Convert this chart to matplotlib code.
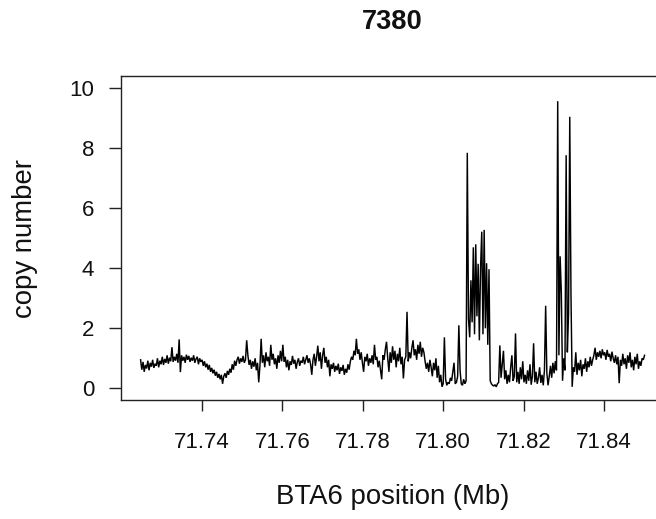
import numpy as np
import matplotlib
matplotlib.use("Agg")
import matplotlib.pyplot as plt

plt.rcParams['font.family'] = ['Liberation Sans', 'DejaVu Sans']

title = "7380"
x_label = "BTA6 position (Mb)"
y_label = "copy number"
x_ticks = [71.74, 71.76, 71.78, 71.80, 71.82, 71.84]
x_tick_labels = ["71.74", "71.76", "71.78", "71.80", "71.82", "71.84"]
y_ticks = [0, 2, 4, 6, 8, 10]

# probe positions: regular grid (Mb)
probe_start = 71.7247
probe_step = 0.0003

copy_number = [
    0.95, 0.62, 0.88, 0.55, 0.78, 0.66, 0.92, 0.60, 0.85, 0.72, 0.95, 0.68, 0.82, 0.75, 1.00, 0.70, 0.92, 0.80, 1.05, 0.78,
    0.98, 0.85, 1.10, 0.82, 1.02, 0.90, 1.37, 0.88, 1.05, 0.92, 1.15, 0.85, 1.63, 0.54, 1.10, 0.92, 1.05, 0.85, 1.12, 0.95,
    1.08, 0.88, 1.02, 0.92, 1.10, 0.85, 0.98, 1.05, 0.80, 1.00, 0.88, 0.95, 0.75, 0.90, 0.70, 0.82, 0.62, 0.78, 0.55, 0.68,
    0.50, 0.62, 0.42, 0.55, 0.35, 0.48, 0.30, 0.45, 0.15, 0.40, 0.50, 0.35, 0.58, 0.45, 0.65, 0.52, 0.80, 0.62, 0.92, 0.75,
    0.95, 1.05, 0.82, 1.00, 0.88, 1.08, 0.85, 0.95, 1.60, 1.10, 0.78, 0.95, 0.65, 0.90, 0.72, 1.00, 0.60, 0.85, 0.20, 0.75,
    1.65, 0.85, 1.10, 0.70, 1.20, 0.90, 1.05, 0.75, 1.45, 0.95, 1.15, 0.80, 1.00, 0.65, 1.10, 0.85, 1.25, 0.90, 1.45, 0.88,
    1.05, 0.70, 0.95, 0.60, 0.90, 0.78, 1.08, 0.82, 0.95, 0.65, 0.88, 1.00, 0.75, 0.92, 0.85, 1.05, 0.80, 0.95, 1.10, 0.85,
    1.00, 0.80, 0.45, 0.95, 1.15, 0.75, 1.05, 1.42, 0.90, 1.20, 0.65, 1.10, 1.35, 0.85, 1.05, 0.70, 0.95, 0.40, 0.80, 0.65,
    0.85, 0.55, 0.75, 0.60, 0.82, 0.48, 0.70, 0.58, 0.78, 0.45, 0.65, 0.52, 0.80, 0.62, 0.90, 1.05, 0.95, 1.25, 1.10, 1.65,
    1.15, 1.30, 0.95, 1.20, 0.85, 0.55, 1.05, 0.90, 1.15, 0.75, 1.00, 0.85, 1.10, 0.80, 1.45, 0.95, 1.05, 0.70, 0.92, 0.60,
    0.30, 1.10, 0.95, 1.30, 1.55, 1.00, 0.55, 1.20, 0.85, 1.40, 0.95, 1.25, 0.70, 1.15, 0.90, 1.35, 0.80, 1.05, 0.33, 0.95,
    1.05, 2.55, 0.90, 1.20, 1.00, 1.35, 1.60, 1.10, 1.30, 0.95, 1.45, 1.15, 1.55, 1.05, 1.35, 1.20, 0.90, 0.65, 0.85, 0.55,
    0.95, 0.70, 0.40, 0.85, 0.60, 1.00, 0.35, 0.75, 0.20, 0.45, 0.05, 0.15, 1.70, 0.30, 0.10, 0.20, 0.15, 0.35, 0.25, 0.55,
    0.85, 0.15, 0.20, 0.40, 2.10, 0.60, 0.15, 0.10, 0.30, 0.15, 0.25, 7.85, 2.30, 1.70, 3.60, 2.20, 4.70, 1.80, 4.80, 2.40,
    4.15, 1.60, 4.00, 5.22, 1.80, 5.28, 2.00, 4.17, 1.45, 3.97, 0.25,
    0.15, 0.10, 0.08, 0.12, 0.05, 0.15, 0.20, 1.43, 0.35,
    0.80, 1.25, 0.30, 0.60, 0.15, 0.45, 0.20, 0.70, 1.10, 0.25, 0.40, 1.83, 0.20, 0.55, 0.15, 0.70, 0.30, 0.90, 0.20, 0.45,
    0.15, 0.60, 0.25, 0.80, 0.12, 0.40, 1.50, 0.20, 0.55, 0.15, 0.35, 0.70, 0.18, 0.45, 0.10, 0.60, 2.75, 0.50, 0.10, 0.40,
    0.75, 0.35, 0.85, 0.50, 0.90, 0.60, 9.57, 1.10, 4.40, 3.20, 0.25, 1.00, 0.60, 7.77, 1.20, 2.50, 9.05, 3.14, 0.05, 0.70,
    0.55, 1.20, 0.45, 0.85, 0.60, 0.95, 0.40, 0.80, 0.65, 1.00, 0.55, 0.90, 0.70, 1.05, 0.75, 0.95, 1.10, 1.35, 0.95, 1.20,
    1.05, 1.25, 1.00, 1.30, 1.10, 1.20, 0.95, 1.28, 1.05, 1.15, 0.90, 1.22, 1.00, 0.85, 1.10, 0.80, 1.05, 0.17, 0.95, 0.75,
    1.15, 0.80, 1.00, 0.65, 1.10, 0.85, 1.20, 0.70, 0.95, 0.60, 1.05, 0.80, 1.15, 0.65, 0.90, 0.75, 1.00, 0.95, 1.10,
]

W, H = 656, 519
fig = plt.figure(figsize=(W / 100, H / 100), dpi=100)

ax_l, ax_r, ax_t, ax_b = 120.5, 664.6, 76.3, 400.3
ax = fig.add_axes([ax_l / W, 1 - ax_b / H, (ax_r - ax_l) / W, (ax_b - ax_t) / H])

positions = probe_start + probe_step * np.arange(len(copy_number))
ax.plot(positions, copy_number, color="black", lw=1.05, solid_joinstyle="miter")

ax.set_xlim(71.7197, 71.8551)
ax.set_ylim(-0.4, 10.4)
ax.set_xticks(x_ticks)
ax.set_xticklabels(x_tick_labels)
ax.set_yticks(y_ticks)
ax.set_yticklabels([str(v) for v in y_ticks])

for s in ax.spines.values():
    s.set_linewidth(1.0)
    s.set_color("#222222")

ax.tick_params(axis="x", direction="out", length=8, width=1.0, color="#222222",
               labelsize=16, pad=15, labelcolor="#111111")
ax.tick_params(axis="y", direction="out", length=9, width=1.0, color="#222222",
               labelsize=16, pad=10, labelcolor="#111111")

cx = (ax_l + ax_r) / 2 / W
fig.text(cx, 1 - 22 / H, title, ha="center", va="center", fontsize=19.6,
         fontweight="bold", color="#111111")
fig.text(cx, 1 - 497 / H, x_label, ha="center", va="center", fontsize=19.8,
         color="#111111")
fig.text(25 / W, 1 - 239 / H, y_label, ha="center", va="center", fontsize=19.8,
         rotation=90, color="#111111")

fig.savefig("out.png", dpi=100)
